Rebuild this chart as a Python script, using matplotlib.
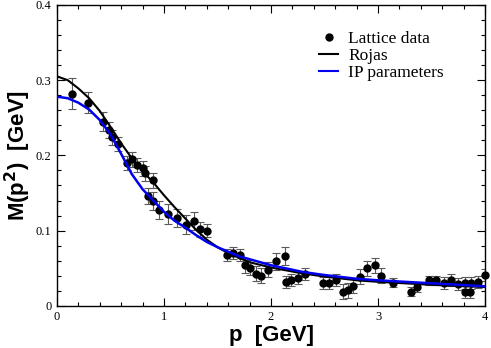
import matplotlib
matplotlib.use("Agg")
import matplotlib.pyplot as plt
from matplotlib.lines import Line2D
from matplotlib.ticker import MultipleLocator

# lattice data: momentum p [GeV], mass function M(p^2) [GeV], error
lat_p = [0.143, 0.286, 0.433, 0.490, 0.517, 0.567, 0.650, 0.697, 0.744, 0.806,
         0.822, 0.853, 0.900, 0.900, 0.955, 1.040, 1.120, 1.210, 1.280, 1.335,
         1.400, 1.585, 1.647, 1.710, 1.755, 1.800, 1.855, 1.910, 1.975, 2.050,
         2.135, 2.140, 2.190, 2.250, 2.315, 2.490, 2.540, 2.610, 2.670, 2.720,
         2.770, 2.830, 2.895, 2.970, 3.030, 3.140, 3.305, 3.365, 3.480, 3.545,
         3.620, 3.685, 3.750, 3.810, 3.810, 3.860, 3.870, 3.930, 4.000]
lat_m = [0.282, 0.270, 0.245, 0.234, 0.224, 0.215, 0.190, 0.195, 0.187, 0.183,
         0.176, 0.146, 0.167, 0.139, 0.128, 0.122, 0.117, 0.108, 0.113, 0.102,
         0.100, 0.068, 0.070, 0.068, 0.054, 0.051, 0.043, 0.040, 0.048, 0.059,
         0.066, 0.032, 0.035, 0.037, 0.043, 0.031, 0.031, 0.035, 0.019, 0.021,
         0.027, 0.039, 0.050, 0.054, 0.040, 0.031, 0.019, 0.025, 0.034, 0.034,
         0.030, 0.035, 0.029, 0.030, 0.019, 0.018, 0.030, 0.032, 0.041]
lat_err = [0.021, 0.014, 0.013, 0.011, 0.010, 0.009, 0.009, 0.010, 0.009, 0.010,
           0.010, 0.010, 0.010, 0.012, 0.012, 0.013, 0.012, 0.013, 0.012, 0.010,
           0.009, 0.008, 0.008, 0.008, 0.010, 0.010, 0.010, 0.010, 0.010, 0.011,
           0.012, 0.008, 0.008, 0.008, 0.008, 0.008, 0.008, 0.008, 0.010, 0.010,
           0.010, 0.010, 0.010, 0.010, 0.010, 0.006, 0.006, 0.006, 0.006, 0.006,
           0.008, 0.008, 0.008, 0.008, 0.008, 0.008, 0.008, 0.008, 0.008]

# Rojas curve
rojas_p = [0.0, 0.1, 0.2, 0.3, 0.4, 0.5, 0.6, 0.7, 0.8, 0.9, 1.0, 1.1, 1.2,
           1.3, 1.4, 1.5, 1.6, 1.7, 1.8, 2.0, 2.3, 2.5, 2.8, 3.0, 3.5, 4.0]
rojas_m = [0.305, 0.300, 0.289, 0.276, 0.259, 0.238, 0.216, 0.196, 0.179,
           0.164, 0.147, 0.131, 0.116, 0.101, 0.088, 0.078, 0.070, 0.064,
           0.058, 0.051, 0.043, 0.039, 0.034, 0.032, 0.028, 0.025]

# IP parameters curve
ip_p = [0.0, 0.1, 0.2, 0.3, 0.4, 0.5, 0.6, 0.7, 0.8, 0.9, 1.0, 1.1, 1.2,
        1.3, 1.4, 1.5, 1.6, 1.7, 1.8, 2.0, 2.3, 2.5, 2.8, 3.0, 3.5, 4.0]
ip_m = [0.278, 0.276, 0.270, 0.261, 0.247, 0.228, 0.202, 0.175, 0.155,
        0.140, 0.125, 0.113, 0.104, 0.094, 0.085, 0.078, 0.072, 0.066,
        0.062, 0.054, 0.045, 0.041, 0.036, 0.034, 0.030, 0.026]

SERIF = "Liberation Serif"
SANS = "Liberation Sans"

fig = plt.figure(figsize=(4.91, 3.48), dpi=100)
ax = fig.add_axes([0.116, 0.121, 0.872, 0.865])

ax.errorbar(lat_p, lat_m, yerr=lat_err, fmt="none", ecolor="#5a5a5a",
            elinewidth=0.8, capsize=3, capthick=0.8, zorder=2)
ax.plot(lat_p, lat_m, "o", color="black", markersize=5, zorder=3, clip_on=False)
ax.plot(rojas_p, rojas_m, color="black", linewidth=1.5, zorder=4)
ax.plot(ip_p, ip_m, color="#0000ee", linewidth=1.8, zorder=5)

ax.set_xlim(0, 4)
ax.set_ylim(0, 0.4)
ax.xaxis.set_minor_locator(MultipleLocator(0.2))
ax.yaxis.set_minor_locator(MultipleLocator(0.02))
ax.set_xticks([0, 1, 2, 3, 4])
ax.set_xticklabels(["0", "1", "2", "3", "4"])
ax.set_yticks([0, 0.1, 0.2, 0.3, 0.4])
ax.set_yticklabels(["0", "0.1", "0.2", "0.3", "0.4"])

ax.tick_params(which="both", direction="in", top=True, right=True, width=0.8)
ax.tick_params(which="major", length=6, labelsize=9, pad=4)
ax.tick_params(which="minor", length=3)
for lab in ax.get_xticklabels() + ax.get_yticklabels():
    lab.set_fontfamily(SERIF)
for side in ax.spines.values():
    side.set_linewidth(1.0)

ax.set_xlabel("p  [GeV]", fontsize=16, fontweight="bold", family=SANS, labelpad=1)
ax.set_ylabel(r"M(p$^\mathbf{2}$)  [GeV]", fontsize=16, fontweight="bold",
              family=SANS, labelpad=2)

handles = [
    Line2D([], [], marker="o", linestyle="none", color="black", markersize=5),
    Line2D([], [], color="black", linewidth=1.5),
    Line2D([], [], color="#0000ee", linewidth=1.5),
]
ax.legend(handles, ["Lattice data", "Rojas", "IP parameters"],
          loc="upper left", bbox_to_anchor=(0.612, 0.915), frameon=False,
          borderpad=0, borderaxespad=0,
          prop={"family": SERIF, "size": 12.5}, handlelength=1.1,
          handletextpad=0.6, labelspacing=0.05)

fig.savefig("out.png", dpi=100)
